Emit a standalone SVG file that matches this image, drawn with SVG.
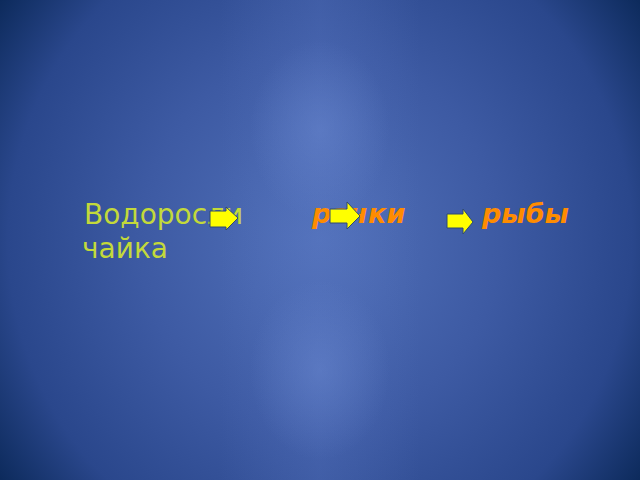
<svg xmlns="http://www.w3.org/2000/svg" width="640" height="480" viewBox="0 0 640 480">
  <defs>
    <radialGradient id="bg" gradientUnits="userSpaceOnUse" cx="320" cy="240" r="400" gradientTransform="translate(320 240) scale(1 1.05) translate(-320 -240)">
      <stop offset="0" stop-color="#5271ba"/>
      <stop offset="0.45" stop-color="#3d5aa3"/>
      <stop offset="0.78" stop-color="#2a478c"/>
      <stop offset="1" stop-color="#0a2858"/>
    </radialGradient>
    <radialGradient id="spot" cx="0.5" cy="0.5" r="0.5">
      <stop offset="0" stop-color="#6a88d0" stop-opacity="0.5"/>
      <stop offset="1" stop-color="#6a88d0" stop-opacity="0"/>
    </radialGradient>
    <linearGradient id="band" x1="0" y1="0" x2="1" y2="0">
      <stop offset="0" stop-color="#5a78c4" stop-opacity="0"/>
      <stop offset="0.5" stop-color="#5a78c4" stop-opacity="0.3"/>
      <stop offset="1" stop-color="#5a78c4" stop-opacity="0"/>
    </linearGradient>
  </defs>
  <style>
    .green { font-family: "DejaVu Sans", "Liberation Sans", sans-serif; font-size: 28px; fill: #c3d93a; }
    .orange { font-family: "DejaVu Sans", "Liberation Sans", sans-serif; font-size: 27px; font-weight: bold; font-style: italic; fill: #ff8c00; }
    .arrow { fill: #ffff00; stroke: #2e4a70; stroke-width: 1; }
  </style>
  <rect width="640" height="480" fill="url(#bg)"/>
  <rect x="220" y="0" width="200" height="480" fill="url(#band)"/>
  <ellipse cx="320" cy="130" rx="70" ry="90" fill="url(#spot)"/>
  <ellipse cx="320" cy="370" rx="70" ry="90" fill="url(#spot)"/>

  <g id="node-vodorosli"><text class="green" x="84" y="224">Водоросли</text></g>
  <g id="node-rachki"><text class="orange" x="312" y="223">рачки</text></g>
  <g id="node-ryby"><text class="orange" x="482" y="223">рыбы</text></g>
  <g id="node-chaika"><text class="green" x="82" y="258">чайка</text></g>

  <g id="connectors">
    <polygon class="arrow" points="210,211 226,211 226,207 238,218 226,230 226,227 210,227"/>
    <polygon class="arrow" points="330,209 347,209 347,202 360,216 347,229 347,223 330,223"/>
    <polygon class="arrow" points="447,214 463,214 463,209 473,222 463,234 463,228 447,228"/>
  </g>
</svg>
